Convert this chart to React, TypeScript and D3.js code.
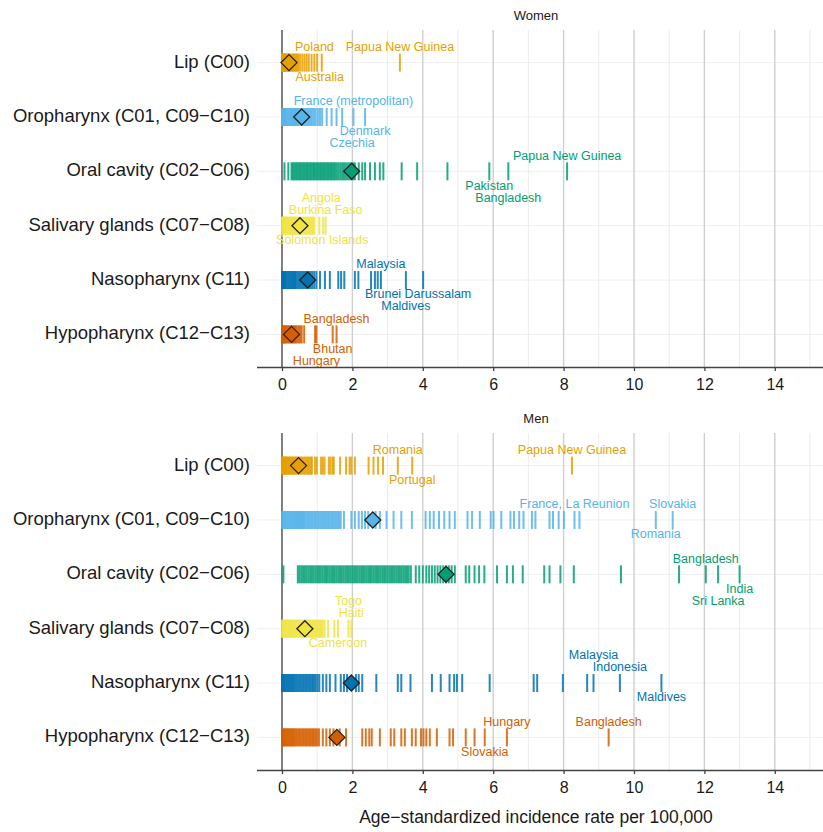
import * as d3 from "d3";
import { useEffect, useRef } from "react";

const sites = [
  "Lip (C00)",
  "Oropharynx (C01, C09−C10)",
  "Oral cavity (C02−C06)",
  "Salivary glands (C07−C08)",
  "Nasopharynx (C11)",
  "Hypopharynx (C12−C13)",
];
const siteColors = ["#E69F00", "#56B4E9", "#009E73", "#F0E442", "#0072B2", "#D55E00"];

// country rates, women
const womenLip = [0.00, 0.01, 0.02, 0.03, 0.04, 0.05, 0.06, 0.08, 0.10, 0.12, 0.14, 0.16, 0.18, 0.20, 0.23, 0.26, 0.29, 0.32, 0.35, 0.38, 0.41, 0.44, 0.47, 0.52, 0.58, 0.64, 0.70, 0.76, 0.84, 0.92, 1.00, 1.13, 3.35];
const womenOro = [0.00, 0.02, 0.04, 0.06, 0.08, 0.10, 0.13, 0.16, 0.19, 0.22, 0.25, 0.28, 0.31, 0.34, 0.37, 0.40, 0.43, 0.46, 0.50, 0.54, 0.58, 0.62, 0.66, 0.70, 0.74, 0.78, 0.82, 0.86, 0.91, 0.96, 1.02, 1.08, 1.14, 1.27, 1.41, 1.55, 1.71, 2.03, 2.36];
const womenOral = [0.07, 0.18, 0.27, 0.31, 0.35, 0.39, 0.43, 0.47, 0.51, 0.55, 0.59, 0.63, 0.67, 0.71, 0.75, 0.79, 0.83, 0.87, 0.91, 0.95, 0.99, 1.03, 1.07, 1.11, 1.15, 1.19, 1.23, 1.27, 1.31, 1.35, 1.39, 1.43, 1.47, 1.51, 1.56, 1.61, 1.66, 1.71, 1.76, 1.81, 1.86, 1.91, 1.96, 2.02, 2.07, 2.18, 2.28, 2.36, 2.50, 2.64, 2.78, 2.88, 3.40, 3.84, 4.70, 5.89, 6.43, 8.10];
const womenSal = [0.00, 0.02, 0.04, 0.06, 0.08, 0.10, 0.13, 0.16, 0.19, 0.22, 0.25, 0.28, 0.31, 0.34, 0.37, 0.40, 0.44, 0.48, 0.52, 0.56, 0.60, 0.64, 0.68, 0.72, 0.76, 0.80, 0.84, 0.88, 0.92, 1.06, 1.17, 1.24];
const womenNaso = [0.00, 0.02, 0.04, 0.06, 0.08, 0.10, 0.13, 0.16, 0.19, 0.22, 0.25, 0.28, 0.31, 0.34, 0.37, 0.40, 0.44, 0.48, 0.52, 0.56, 0.60, 0.64, 0.68, 0.72, 0.77, 0.82, 0.87, 0.92, 0.98, 1.08, 1.22, 1.36, 1.60, 1.68, 1.77, 2.07, 2.17, 2.53, 2.64, 2.72, 2.81, 3.52, 4.01];
const womenHypo = [0.00, 0.02, 0.04, 0.06, 0.08, 0.10, 0.13, 0.16, 0.19, 0.22, 0.25, 0.28, 0.31, 0.34, 0.37, 0.40, 0.44, 0.48, 0.52, 0.56, 0.63, 0.94, 0.98, 1.44, 1.55];
const womenWorld = [0.20, 0.56, 1.98, 0.51, 0.73, 0.27];

// country rates, men
const menLip = [0.00, 0.02, 0.04, 0.06, 0.08, 0.10, 0.12, 0.14, 0.17, 0.20, 0.23, 0.26, 0.29, 0.32, 0.35, 0.38, 0.41, 0.44, 0.47, 0.50, 0.54, 0.58, 0.62, 0.66, 0.70, 0.74, 0.78, 0.82, 0.85, 0.94, 0.99, 1.11, 1.16, 1.21, 1.33, 1.38, 1.44, 1.47, 1.65, 1.82, 1.92, 1.97, 2.07, 2.46, 2.60, 2.73, 2.87, 3.29, 3.70, 8.24];
const menOro = [0.00, 0.03, 0.06, 0.09, 0.12, 0.15, 0.18, 0.21, 0.24, 0.27, 0.30, 0.33, 0.36, 0.39, 0.42, 0.45, 0.48, 0.51, 0.54, 0.57, 0.60, 0.63, 0.66, 0.70, 0.74, 0.78, 0.82, 0.86, 0.90, 0.94, 0.98, 1.02, 1.06, 1.10, 1.14, 1.18, 1.22, 1.26, 1.30, 1.34, 1.38, 1.42, 1.46, 1.50, 1.54, 1.58, 1.62, 1.67, 1.76, 1.97, 2.07, 2.18, 2.27, 2.36, 2.45, 2.66, 2.78, 2.97, 3.17, 3.39, 3.69, 4.08, 4.20, 4.31, 4.46, 4.61, 4.76, 4.91, 5.27, 5.40, 5.62, 5.93, 6.01, 6.23, 6.49, 6.59, 6.74, 6.86, 7.10, 7.20, 7.60, 7.70, 7.86, 8.01, 8.31, 8.45, 10.62, 11.10];
const menOral = [0.04, 0.45, 0.50, 0.55, 0.60, 0.65, 0.70, 0.75, 0.80, 0.85, 0.90, 0.95, 1.00, 1.05, 1.10, 1.15, 1.20, 1.25, 1.30, 1.35, 1.40, 1.45, 1.50, 1.55, 1.60, 1.65, 1.70, 1.75, 1.80, 1.85, 1.90, 1.95, 2.00, 2.05, 2.10, 2.15, 2.20, 2.25, 2.30, 2.35, 2.40, 2.45, 2.50, 2.55, 2.60, 2.65, 2.70, 2.75, 2.80, 2.85, 2.90, 2.95, 3.00, 3.05, 3.10, 3.15, 3.20, 3.25, 3.30, 3.35, 3.40, 3.45, 3.50, 3.55, 3.60, 3.66, 3.80, 3.90, 4.00, 4.10, 4.18, 4.26, 4.34, 4.42, 4.50, 4.58, 4.66, 4.74, 4.82, 4.91, 5.22, 5.32, 5.47, 5.60, 5.75, 6.11, 6.39, 6.56, 6.84, 7.45, 7.60, 7.91, 8.29, 9.63, 11.28, 12.04, 12.39, 13.00];
const menSal = [0.00, 0.03, 0.06, 0.09, 0.12, 0.15, 0.18, 0.21, 0.24, 0.27, 0.30, 0.33, 0.36, 0.40, 0.44, 0.48, 0.52, 0.56, 0.60, 0.64, 0.68, 0.72, 0.76, 0.80, 0.84, 0.88, 0.92, 0.96, 1.00, 1.04, 1.08, 1.12, 1.16, 1.21, 1.31, 1.49, 1.59, 1.89, 1.97];
const menNaso = [0.00, 0.03, 0.06, 0.09, 0.12, 0.15, 0.18, 0.21, 0.24, 0.27, 0.30, 0.33, 0.36, 0.40, 0.44, 0.48, 0.52, 0.56, 0.60, 0.64, 0.68, 0.72, 0.76, 0.80, 0.84, 0.88, 0.92, 0.96, 1.01, 1.06, 1.16, 1.26, 1.36, 1.52, 1.67, 1.76, 1.85, 2.10, 2.18, 2.28, 2.68, 3.29, 3.39, 3.65, 4.26, 4.51, 4.76, 4.89, 4.97, 5.12, 5.90, 7.15, 7.25, 7.98, 8.67, 8.85, 9.60, 10.78];
const menHypo = [0.00, 0.03, 0.06, 0.09, 0.12, 0.15, 0.18, 0.21, 0.24, 0.27, 0.30, 0.33, 0.36, 0.40, 0.44, 0.48, 0.52, 0.56, 0.60, 0.64, 0.68, 0.72, 0.76, 0.80, 0.84, 0.88, 0.92, 0.96, 1.00, 1.05, 1.16, 1.26, 1.36, 1.46, 1.64, 1.82, 2.28, 2.38, 2.48, 2.55, 2.78, 3.09, 3.19, 3.39, 3.49, 3.69, 3.80, 3.95, 4.02, 4.10, 4.20, 4.40, 4.76, 4.86, 5.22, 5.47, 5.76, 6.39, 9.28];
const menWorld = [0.47, 2.58, 4.66, 0.65, 1.97, 1.56];

// labelled countries: [site index, country, rate]
const womenLabels = [
  [0, "Poland", 0.92], [0, "Australia", 1.13], [0, "Papua New Guinea", 3.35],
  [1, "France (metropolitan)", 2.03], [1, "Denmark", 2.36], [1, "Czechia", 1.71],
  [2, "Papua New Guinea", 8.10], [2, "Pakistan", 5.89], [2, "Bangladesh", 6.43],
  [3, "Angola", 1.17], [3, "Burkina Faso", 1.24], [3, "Solomon Islands", 1.06],
  [4, "Malaysia", 2.81], [4, "Brunei Darussalam", 4.01], [4, "Maldives", 3.52],
  [5, "Bangladesh", 1.55], [5, "Bhutan", 1.44], [5, "Hungary", 0.98],
];
const menLabels = [
  [0, "Romania", 3.29], [0, "Portugal", 3.70], [0, "Papua New Guinea", 8.24],
  [1, "France, La Reunion", 8.31], [1, "Slovakia", 11.10], [1, "Romania", 10.62],
  [2, "Bangladesh", 12.04], [2, "India", 13.00], [2, "Sri Lanka", 12.39],
  [3, "Togo", 1.89], [3, "Haiti", 1.97], [3, "Cameroon", 1.59],
  [4, "Malaysia", 8.85], [4, "Indonesia", 9.60], [4, "Maldives", 10.78],
  [5, "Hungary", 6.39], [5, "Slovakia", 5.76], [5, "Bangladesh", 9.28],
];
// label placement (line level above/below the row, horizontal nudge px)
const womenPlace = [
  [-1, 0], [1, -2], [-1, 0],
  [-1, 0], [1, 0], [2, 10],
  [-1, 0], [1, 0], [2, 0],
  [-2, -2], [-1, 0], [1, 3],
  [-1, 0], [1, -5], [2, 0],
  [-1, 0], [1, 0], [2, 0],
];
const menPlace = [
  [-1, 0], [1, 0], [-1, 0],
  [-1, 0], [-1, 0], [1, 0],
  [-1, 0], [1, 0], [2, 0],
  [-2, 0], [-1, 0], [1, 0],
  [-2, 0], [-1, 0], [1, 0],
  [-1, 0], [1, 0], [-1, 0],
];

const xTicks = [0, 2, 4, 6, 8, 10, 12, 14];
const xMinor = [1, 3, 5, 7, 9, 11, 13, 15];

const font = "'Liberation Sans', Arial, Helvetica, sans-serif";

const App = () => {
  const ref = useRef(null);

  useEffect(() => {
    const svg = d3.select(ref.current);
    svg.selectAll("*").remove();

    const x = d3.scaleLinear().domain([-0.71, 15.37]).range([257, 823]);
    const centerX = (257 + 815) / 2;

    const panels = [
      { title: "Women", top: 30, bottom: 367, rates: [womenLip, womenOro, womenOral, womenSal, womenNaso, womenHypo], world: womenWorld, labels: womenLabels, place: womenPlace },
      { title: "Men", top: 433, bottom: 770, rates: [menLip, menOro, menOral, menSal, menNaso, menHypo], world: menWorld, labels: menLabels, place: menPlace },
    ];

    panels.forEach(p => {
      const y = d3.scalePoint().domain(sites).range([p.top, p.bottom]).padding(0.6);
      const g = svg.append("g");

      // panel title
      g.append("text").attr("x", centerX).attr("y", p.top - 13)
        .attr("text-anchor", "middle").attr("dominant-baseline", "middle")
        .style("font-family", font).style("font-size", "13px").style("fill", "#1a1a1a")
        .text(p.title);

      // grid
      g.selectAll(".hgrid").data(sites).enter().append("line")
        .attr("x1", 257).attr("x2", 823)
        .attr("y1", d => y(d)).attr("y2", d => y(d))
        .style("stroke", "#f0f0f0").style("stroke-width", 1);
      g.selectAll(".minor").data(xMinor).enter().append("line")
        .attr("x1", d => x(d)).attr("x2", d => x(d))
        .attr("y1", p.top).attr("y2", p.bottom)
        .style("stroke", "#ececec").style("stroke-width", 1);
      g.selectAll(".major").data(xTicks.filter(d => d !== 0)).enter().append("line")
        .attr("x1", d => x(d)).attr("x2", d => x(d))
        .attr("y1", p.top).attr("y2", p.bottom)
        .style("stroke", "#cfcfcf").style("stroke-width", 1.4);
      g.append("line").attr("x1", x(0)).attr("x2", x(0))
        .attr("y1", p.top).attr("y2", p.bottom)
        .style("stroke", "#555").style("stroke-width", 1.5);

      // row labels
      g.selectAll(".rowlab").data(sites).enter().append("text")
        .attr("x", 250).attr("y", d => y(d))
        .attr("text-anchor", "end").attr("dominant-baseline", "middle")
        .style("font-family", font).style("font-size", "18.5px").style("fill", "#1a1a1a")
        .text(d => d);

      // country ticks
      p.rates.forEach((vals, i) => {
        const yc = y(sites[i]);
        g.selectAll(".tk" + i).data(vals).enter().append("line")
          .attr("x1", d => x(d)).attr("x2", d => x(d))
          .attr("y1", yc - 9).attr("y2", yc + 9)
          .style("stroke", siteColors[i]).style("stroke-width", 2)
          .style("stroke-opacity", 0.85);
      });

      // world diamonds
      g.selectAll(".dia").data(p.world).enter().append("path")
        .attr("d", "M0,-8L8,0L0,8L-8,0Z")
        .attr("transform", (d, i) => `translate(${x(d)},${y(sites[i])})`)
        .style("fill", (d, i) => siteColors[i])
        .style("stroke", "#222").style("stroke-width", 1.3);

      // country labels
      g.selectAll(".clab").data(p.labels).enter().append("text")
        .attr("x", (d, i) => x(d[2]) + p.place[i][1])
        .attr("y", (d, i) => {
          const lv = p.place[i][0];
          const off = lv === -1 ? -15 : lv === -2 ? -27 : lv === 1 ? 15 : 27;
          return y(sites[d[0]]) + off;
        })
        .attr("text-anchor", "middle").attr("dominant-baseline", "middle")
        .style("font-family", font).style("font-size", "12.5px")
        .style("fill", d => siteColors[d[0]])
        .text(d => d[1]);

      // x axis
      const ax = g.append("g").attr("transform", `translate(0,${p.bottom})`)
        .call(d3.axisBottom(x).tickValues(xTicks).tickSize(4).tickPadding(8).tickFormat(d3.format("d")));
      ax.select(".domain").attr("d", `M257,0.5H823`).style("stroke", "#444").style("stroke-width", 1.3);
      ax.selectAll(".tick line").style("stroke", "#444").style("stroke-width", 1.3);
      ax.selectAll(".tick text").style("font-family", font).style("font-size", "16px").style("fill", "#1a1a1a");
    });

    svg.append("text").attr("x", centerX).attr("y", 818)
      .attr("text-anchor", "middle").attr("dominant-baseline", "middle")
      .style("font-family", font).style("font-size", "17.5px").style("fill", "#1a1a1a")
      .text("Age−standardized incidence rate per 100,000");
  }, []);

  return (
    <svg ref={ref} width={823} height={832}
      style={{ position: "absolute", left: 0, top: 0, background: "#fff" }} />
  );
};

export default App;
